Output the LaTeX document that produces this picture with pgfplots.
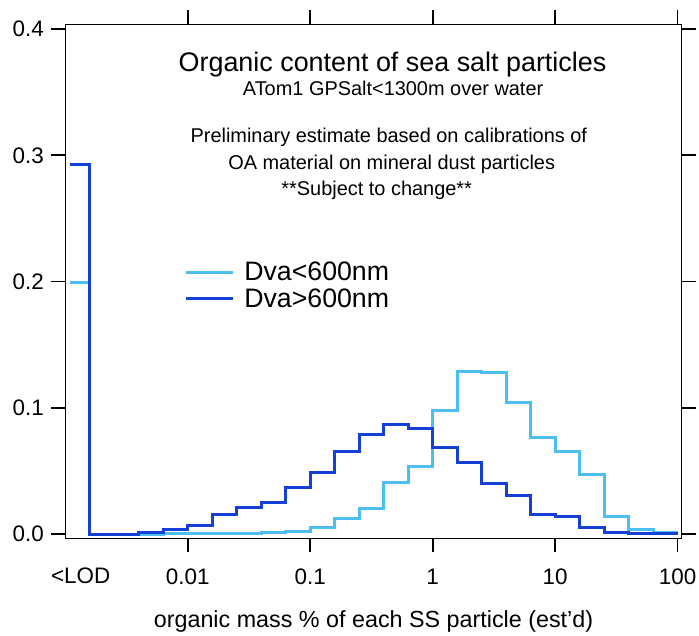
\documentclass[border=0pt]{standalone}
\usepackage{fontspec}
\setmainfont{Liberation Sans}
\usepackage{pgfplots}
\usepackage{pgfplotstable}
\pgfplotsset{compat=1.18}
\definecolor{lightb}{RGB}{76,190,240}
\definecolor{darkb}{RGB}{20,64,216}

% x = log10(organic mass %) of left bin edge; first bin is <LOD
\pgfplotstableread{
x y
-2.96 0.199
-2.8 0.0
-2.6 0.0
-2.4 0.0
-2.2 0.0003
-2.0 0.0003
-1.8 0.0003
-1.6 0.0003
-1.4 0.0015
-1.2 0.0018
-1.0 0.0052
-0.8 0.0124
-0.6 0.0206
-0.4 0.0406
-0.2 0.0535
0.0 0.0976
0.2 0.1285
0.4 0.1280
0.6 0.1045
0.8 0.0768
1.0 0.0652
1.2 0.0475
1.4 0.0139
1.6 0.0034
1.8 0.0010
2.0 0.0010
}\small

\pgfplotstableread{
x y
-2.96 0.293
-2.8 0.0
-2.6 0.0
-2.4 0.0013
-2.2 0.0034
-2.0 0.0068
-1.8 0.0155
-1.6 0.0214
-1.4 0.0250
-1.2 0.0372
-1.0 0.0485
-0.8 0.0657
-0.6 0.0789
-0.4 0.0868
-0.2 0.0834
0.0 0.0690
0.2 0.0570
0.4 0.0398
0.6 0.0309
0.8 0.0155
1.0 0.0143
1.2 0.0055
1.4 0.0016
1.6 0.0008
1.8 0.0004
2.0 0.0004
}\large

\begin{document}
\begin{tikzpicture}
\begin{axis}[
  at={(0,0)}, anchor=south west,
  scale only axis, width=616.4bp, height=514bp,
  xmin=-3, xmax=2.033, ymin=-0.0032, ymax=0.4037,
  axis line style={line width=1.4bp},
  tick style={line width=1.6bp, black},
  tick align=outside, major tick length=14bp,
  xtick pos=both, ytick pos=both,
  xtick={-2,-1,0,1,2}, xticklabels={0.01,0.1,1,10,100},
  ytick={0,0.1,0.2,0.3,0.4}, yticklabels={0.0,0.1,0.2,0.3,0.4},
  xticklabel pos=lower, yticklabel pos=left,
  minor tick num=0,
  /pgf/number format/assume math mode=true,
  ticklabel style={font=\fontsize{22.5}{27}\selectfont},
  xticklabel shift=13bp,
  yticklabel shift=4bp,
  xlabel={organic mass \% of each SS particle (est'd)},
  xlabel style={font=\fontsize{23.4}{28}\selectfont, at={(axis description cs:0.5,0)}, anchor=base, yshift=-88.7bp},
  legend style={at={(axis description cs:0.188,0.545)}, anchor=north west,
    draw=none, fill=none, font=\fontsize{26.8}{30}\selectfont,
    row sep=2bp, column sep=8bp},
  legend cell align=left,
  legend image code/.code={\draw[#1] (0bp,0bp) -- (47bp,0bp);},
  clip mode=individual,
]
\addplot[const plot mark left, color=lightb, line width=3bp] table[x=x,y=y] {\small};
\addlegendentry{Dva<600nm}
\addplot[const plot mark left, color=darkb, line width=3bp] table[x=x,y=y] {\large};
\addlegendentry{Dva>600nm}

\node[anchor=base, font=\fontsize{22.5}{27}\selectfont] at (axis cs:-2.875,-0.0032) [yshift=-44.7bp] {<LOD};
\node[anchor=base, font=\fontsize{27}{32}\selectfont] at (axis description cs:0.5308,0.9078) {Organic content of sea salt particles};
\node[anchor=base, font=\fontsize{20}{24}\selectfont] at (axis description cs:0.5318,0.8624) {ATom1 GPSalt<1300m over water};
\node[anchor=base, font=\fontsize{20}{24}\selectfont] at (axis description cs:0.5249,0.7696) {Preliminary estimate based on calibrations of};
\node[anchor=base, font=\fontsize{20}{24}\selectfont] at (axis description cs:0.5295,0.7179) {OA material on mineral dust particles};
\node[anchor=base, font=\fontsize{20}{24}\selectfont] at (axis description cs:0.5052,0.6679) {**Subject to change**};
\end{axis}
\pgfresetboundingbox
\path[use as bounding box] (-65.3bp,-97.7bp) rectangle (633.7bp,538.3bp);
\end{tikzpicture}
\end{document}
